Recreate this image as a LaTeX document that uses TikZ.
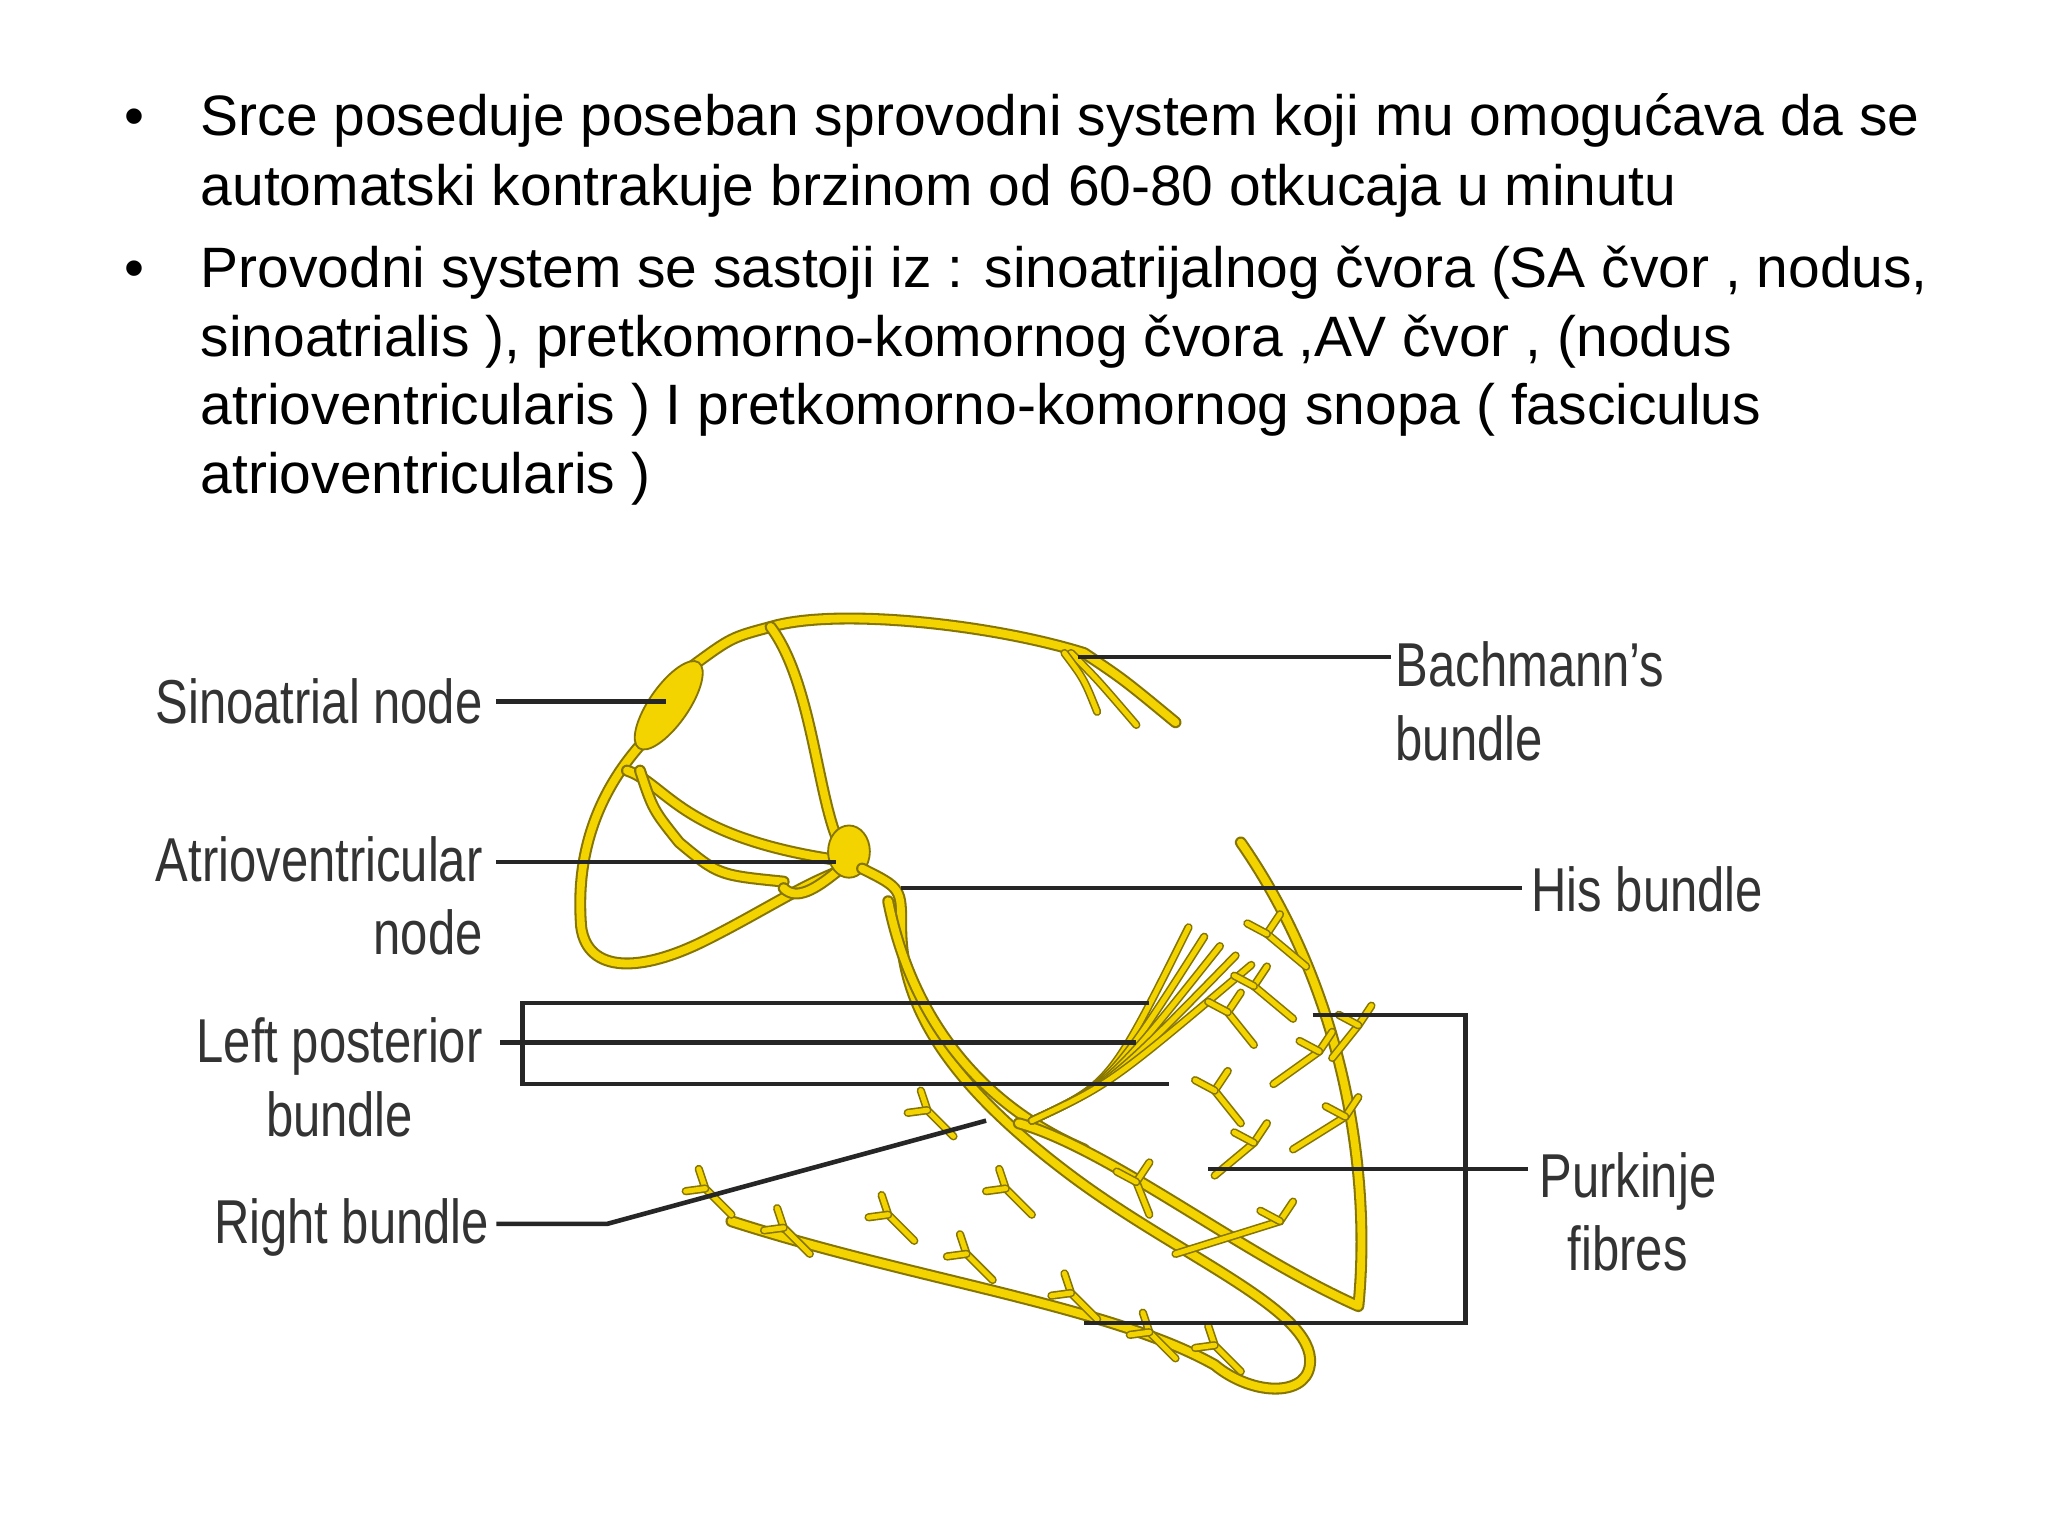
\documentclass[tikz,border=0pt]{standalone}
\usepackage{fontspec}
\setmainfont{Liberation Sans}
\begin{document}
\begin{tikzpicture}[x=0.01cm,y=-0.01cm,
  fib/.style={preaction={draw=yel!55!black,line width=2.6pt,line cap=round,line join=round},draw=yel,line width=1.7pt,line cap=round,line join=round},
  thin/.style={preaction={draw=yel!55!black,line width=1.8pt,line cap=round},draw=yel,line width=1.1pt,line cap=round},
  lead/.style={draw=black!85,line width=1pt},
  txt/.style={font=\fontsize{12.4pt}{14.8pt}\selectfont,anchor=base west,inner sep=0},
  lab/.style={font=\fontsize{13.5pt}{16pt}\selectfont,xscale=0.79,inner sep=0,text=black!80}]
\definecolor{yel}{HTML}{F3D400}
\useasboundingbox (0,0) rectangle (1568,1176);
\fill[white] (0,0) rectangle (1568,1176);
% text
\node[txt] (b1) at (95,104) {•};
\node[txt] (t1) at (153,104) {Srce poseduje poseban sprovodni system koji mu omogućava da se};
\node[txt] (t2) at (153,157) {automatski kontrakuje brzinom od 60-80 otkucaja u minutu};
\node[txt] (b2) at (95,220) {•};
\node[txt] (t3) at (153,220) {Provodni system se sastoji iz : sinoatrijalnog čvora (SA čvor , nodus,};
\node[txt] (t4) at (153,273) {sinoatrialis ), pretkomorno-komornog čvora ,AV čvor , (nodus};
\node[txt] (t5) at (153,325) {atrioventricularis ) I pretkomorno-komornog snopa ( fasciculus};
\node[txt] (t6) at (153,378) {atrioventricularis )};
% fibres: atria
\path[fib] (530,510) .. controls (560,488) .. (590,480) .. controls (640,465) and (760,478) .. (830,500) .. controls (860,520) .. (900,553);
\path[thin] (820,500) .. controls (840,520) .. (870,555);
\path[thin] (815,500) .. controls (830,520) .. (840,545);
\path[fib] (590,480) .. controls (620,520) and (625,600) .. (640,640);
\path[fib] (500,560) .. controls (460,600) and (440,650) .. (445,710) .. controls (450,745) and (490,745) .. (540,720) .. controls (580,700) and (610,680) .. (640,668);
\path[fib] (480,590) .. controls (510,600) and (520,640) .. (638,658);
\path[fib] (490,590) .. controls (500,620) .. (520,645) .. controls (550,670) .. (600,675);
\path[fib] (600,680) .. controls (610,690) and (625,680) .. (640,668);
\fill[yel,draw=yel!55!black,rotate around={55:(512,540)}] (512,540) ellipse (40 and 15);
\fill[yel,draw=yel!55!black] (650,652) ellipse (16 and 20);
% His / right bundle loop
\path[fib] (660,665) .. controls (690,680) .. (690,710) .. controls (690,780) and (740,840) .. (820,900) .. controls (900,960) and (1000,1000) .. (1003,1040) .. controls (1005,1070) and (960,1070) .. (930,1045) .. controls (850,1000) and (700,980) .. (560,935);
\path[fib] (680,690) .. controls (700,790) and (760,850) .. (830,880);
\path[fib] (780,860) .. controls (850,880) and (950,960) .. (1040,1000) .. controls (1050,900) and (1030,760) .. (950,645);
% left posterior fan
\foreach \dx in {0,12,24,36,48} {\path[thin] (790,858) .. controls (850,830) .. (910+\dx,710+\dx*0.6);}
% purkinje branches
\foreach \a/\b/\c in {930/900/960, 900/960/980, 880/930/870, 960/800/940, 975/830/1010, 1000/740/970, 990/880/1030, 1020/810/1040, 950/860/930, 990/780/960}
  {\path[thin] (\a,\b) -- (\c,\b-25) -- ++(10,-15); \path[thin] (\c,\b-25) -- ++(-15,-8);}
\foreach \a/\b in {560/930, 620/960, 700/950, 760/980, 840/1010, 900/1040, 950/1050, 730/870, 790/930}
  {\path[thin] (\a,\b) -- ++(-20,-20) -- ++(-5,-15); \path[thin] (\a-20,\b-20) -- ++(-15,2);}
% leaders
\node[lab,anchor=east] (sa) at (370,537) {Sinoatrial node};
\draw[lead] (380,537) -- (510,537);
\node[lab,anchor=east,align=right] (av) at (370,686) {Atrioventricular\\node};
\draw[lead] (380,660) -- (640,660);
\node[lab,anchor=east,align=center] (lp) at (370,825) {Left posterior\\bundle};
\draw[lead] (383,798) -- (870,798);
\draw[lead] (880,768) -- (400,768) -- (400,830) -- (895,830);
\node[lab,anchor=east] (rb) at (375,940) {Right bundle};
\draw[lead] (380,937) -- (465,937) -- (755,858);
\node[lab,anchor=west,align=left] (bb) at (1068,537) {Bachmann's\\bundle};
\draw[lead] (825,503) -- (1065,503);
\node[lab,anchor=west] (his) at (1172,681) {His bundle};
\draw[lead] (690,680) -- (1165,680);
\node[lab,anchor=west,align=center] (pf) at (1178,928) {Purkinje\\fibres};
\draw[lead] (1005,777) -- (1122,777) -- (1122,1013) -- (830,1013);
\draw[lead] (925,895) -- (1170,895);
\end{tikzpicture}
\end{document}
